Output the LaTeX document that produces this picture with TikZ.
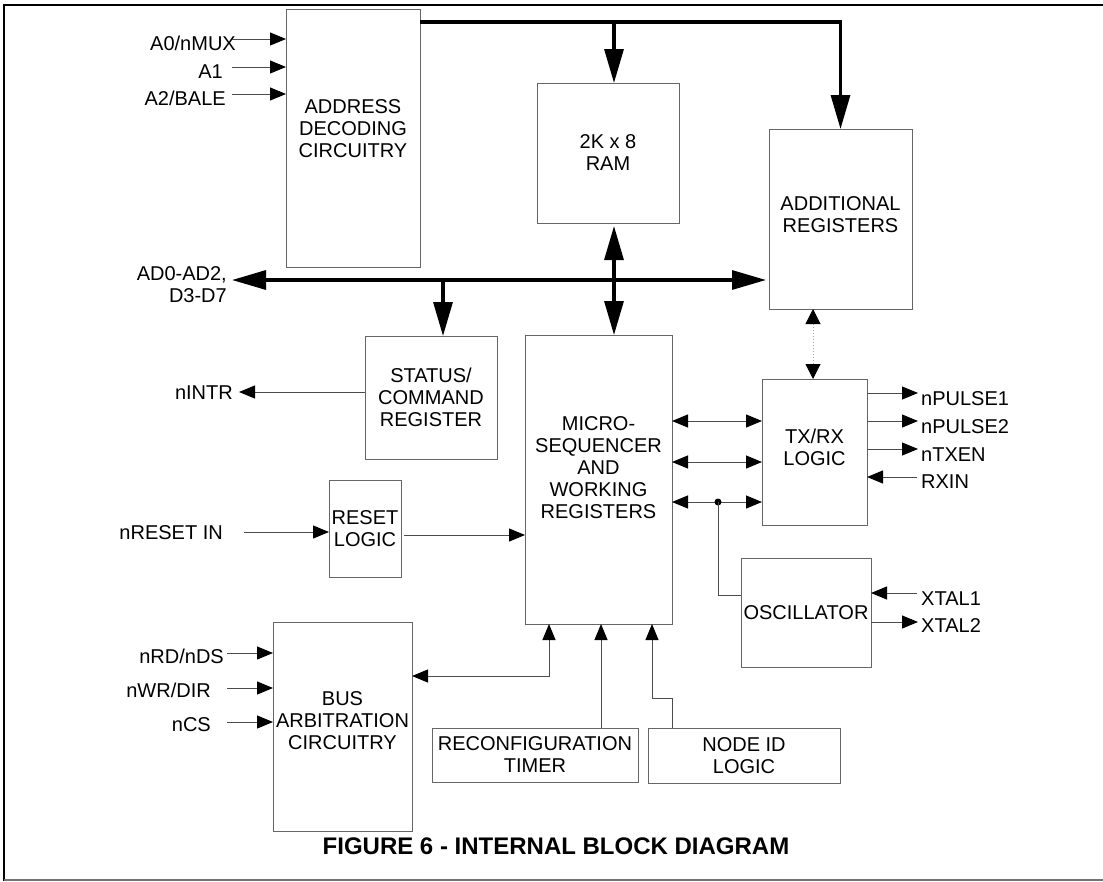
\documentclass[tikz,border=0pt]{standalone}
\usepackage{fontspec}
\setmainfont{Liberation Sans}
\usetikzlibrary{arrows.meta,calc}
\begin{document}
\begin{tikzpicture}[x=1pt,y=-1pt,
  BigT/.tip={Triangle[length=34pt,width=19pt,color=black]},
  SmT/.tip={Triangle[length=16pt,width=13pt,color=black]},
  DotT/.tip={Triangle[length=15pt,width=15pt,color=black]},
  box/.style={draw=black!60, line width=1pt, inner sep=0pt, outer sep=0pt, align=center, font=\fontsize{20}{22}\selectfont},
  txt/.style={inner sep=0pt, align=center, font=\fontsize{20}{22}\selectfont},
  lbl/.style={inner sep=0pt, font=\fontsize{20}{22}\selectfont},
  bus/.style={line width=3.2pt, black},
  wire/.style={line width=1pt, black!70},
  dwire/.style={line width=1pt, black!35, dotted}
]
\useasboundingbox (0,0) rectangle (1103,881);

% frame
\draw[line width=1.8pt] (1103,5) -- (4,5);
\draw[line width=2.6pt] (4,4) -- (4,881);
\draw[line width=1.5pt, black!55] (4,880) -- (1103,880);

% blocks
\node[box, minimum width=134pt, minimum height=258pt] (addr) at (353,138) {};
\node[txt] (addrt) at ([yshift=9pt]addr.center) {ADDRESS\\DECODING\\CIRCUITRY};
\node[box, minimum width=142pt, minimum height=140pt] (ram) at (608,153) {2K x 8\\RAM};
\node[box, minimum width=143pt, minimum height=180pt] (addreg) at (840.5,219) {};
\node[txt] (addregt) at ([yshift=4pt]addreg.center) {ADDITIONAL\\REGISTERS};
\node[box, minimum width=132pt, minimum height=123pt] (status) at (431,397.5) {STATUS/\\COMMAND\\REGISTER};
\node[box, minimum width=72pt, minimum height=97pt] (reset) at (365,528.5) {RESET\\LOGIC};
\node[box, minimum width=147pt, minimum height=289pt] (micro) at (598.5,479.5) {};
\node[txt] (microt) at ([yshift=12pt]micro.center) {MICRO-\\SEQUENCER\\AND\\WORKING\\REGISTERS};
\node[box, minimum width=105pt, minimum height=146pt] (txrx) at (814.5,452) {};
\node[txt] (txrxt) at ([yshift=5pt]txrx.center) {TX/RX\\LOGIC};
\node[box, minimum width=130pt, minimum height=109pt] (osc) at (806,612.5) {OSCILLATOR};
\node[box, minimum width=139pt, minimum height=209pt] (busarb) at (342.5,726.5) {};
\node[txt] (busarbt) at ([yshift=6pt]busarb.center) {BUS\\ARBITRATION\\CIRCUITRY};
\node[box, minimum width=206pt, minimum height=54pt] (reconf) at (535,755) {RECONFIGURATION\\TIMER};
\node[box, minimum width=192pt, minimum height=55pt] (nodeid) at (744,755.5) {NODE ID\\LOGIC};

% caption
\node[inner sep=0pt, font=\bfseries\fontsize{24}{28}\selectfont] (cap) at (556,846) {FIGURE 6 - INTERNAL BLOCK DIAGRAM};

% address inputs
\node[lbl, anchor=base east] (la0) at (236,50) {A0/nMUX};
\node[lbl, anchor=base east] (la1) at (223,78) {A1};
\node[lbl, anchor=base east] (la2) at (226,105) {A2/BALE};
\coordinate (ia0) at (232,39);
\coordinate (ia1) at (232,67);
\coordinate (ia2) at (232,94);
\draw[wire,-SmT] (ia0) -- (addr.west |- ia0);
\draw[wire,-SmT] (ia1) -- (addr.west |- ia1);
\draw[wire,-SmT] (ia2) -- (addr.west |- ia2);

% top bus
\coordinate (ramtap) at (614,22);
\draw[bus,-BigT] (addr.east |- ramtap) -| (addreg.north);
\draw[bus,-BigT] (ramtap) -- (ram.north -| ramtap);

% data bus
\node[lbl, anchor=east, align=right] (ladb) at (227,285) {AD0-AD2,\\D3-D7};
\coordinate (dbl) at (232,280);
\coordinate (sttap) at (443,280);
\draw[bus,BigT-BigT, shorten >=3pt] (dbl) -- (addreg.west |- dbl);
\draw[bus,-BigT] (sttap) -- (status.north -| sttap);
\draw[bus,BigT-BigT, shorten <=3pt] (ram.south -| ramtap) -- (micro.north -| ramtap);

% status
\node[lbl, anchor=base east] (lintr) at (233,399) {nINTR};
\coordinate (ointr) at (239,392);
\draw[wire,-SmT] (status.west |- ointr) -- (ointr);

% reset
\node[lbl, anchor=base east] (lrst) at (223,539) {nRESET IN};
\coordinate (irst) at (244,532);
\draw[wire,-SmT] (irst) -- (reset.west |- irst);
\coordinate (rm) at (404,535);
\draw[wire,-SmT] (rm) -- (micro.west |- rm);

% micro <-> txrx
\coordinate (b1) at (700,421);
\coordinate (b2) at (700,462);
\coordinate (jn) at (718,502);
\draw[wire,SmT-SmT] (micro.east |- b1) -- (txrx.west |- b1);
\draw[wire,SmT-SmT] (micro.east |- b2) -- (txrx.west |- b2);
\draw[wire,SmT-SmT] (micro.east |- jn) -- (txrx.west |- jn);
\fill (jn) circle (3.5pt);
\coordinate (oy) at (741,595);
\draw[wire] (jn) |- (osc.west |- oy);

% addreg <-> txrx dotted
\coordinate (dx) at (813,340);
\draw[dwire,DotT-DotT] (addreg.south -| dx) -- (txrx.north -| dx);

% txrx outputs
\coordinate (o1) at (918,393);
\coordinate (o2) at (918,421);
\coordinate (o3) at (918,449);
\coordinate (o4) at (917,477);
\draw[wire,-SmT] (txrx.east |- o1) -- (o1);
\draw[wire,-SmT] (txrx.east |- o2) -- (o2);
\draw[wire,-SmT] (txrx.east |- o3) -- (o3);
\draw[wire,-SmT] (o4) -- (txrx.east |- o4);
\node[lbl, anchor=base west] (lp1) at (921,405) {nPULSE1};
\node[lbl, anchor=base west] (lp2) at (921,433) {nPULSE2};
\node[lbl, anchor=base west] (ltx) at (921,461) {nTXEN};
\node[lbl, anchor=base west] (lrx) at (921,488) {RXIN};

% oscillator
\coordinate (x1) at (917,593);
\coordinate (x2) at (918,622);
\draw[wire,-SmT] (x1) -- (osc.east |- x1);
\draw[wire,-SmT] (osc.east |- x2) -- (x2);
\node[lbl, anchor=base west] (lx1) at (921,605) {XTAL1};
\node[lbl, anchor=base west] (lx2) at (921,632) {XTAL2};

% bus arbitration inputs
\node[lbl, anchor=base east] (lrd) at (224,663) {nRD/nDS};
\node[lbl, anchor=base east] (lwr) at (211,697) {nWR/DIR};
\node[lbl, anchor=base east] (lcs) at (211,731) {nCS};
\coordinate (ird) at (227,653);
\coordinate (iwr) at (227,688);
\coordinate (ics) at (227,722);
\draw[wire,-SmT] (ird) -- (busarb.west |- ird);
\draw[wire,-SmT] (iwr) -- (busarb.west |- iwr);
\draw[wire,-SmT] (ics) -- (busarb.west |- ics);

% bottom connections to micro
\coordinate (ba) at (549,676);
\draw[wire,SmT-SmT] (busarb.east |- ba) -| (micro.south -| ba);
\coordinate (rc) at (601,700);
\draw[wire,-SmT] (reconf.north -| rc) -- (micro.south -| rc);
\coordinate (nd) at (672,698);
\coordinate (nd2) at (652,698);
\draw[wire,-SmT] (nodeid.north -| nd) -- (nd) -- (nd2) -- (micro.south -| nd2);
\end{tikzpicture}
\end{document}
